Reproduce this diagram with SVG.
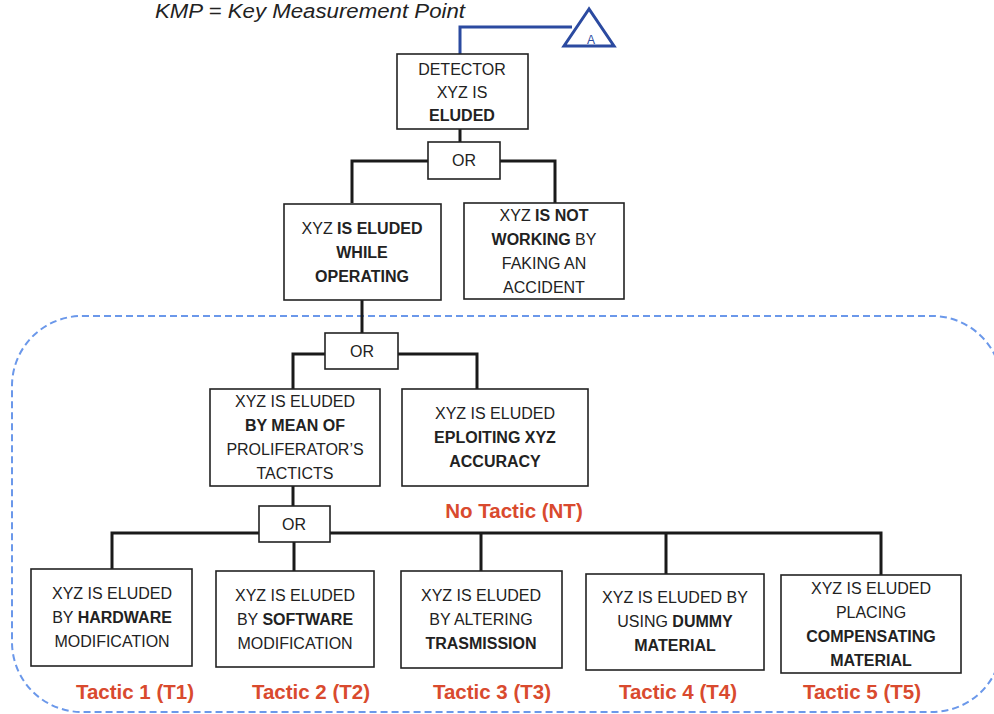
<svg xmlns="http://www.w3.org/2000/svg" width="994" height="714" viewBox="0 0 994 714">
<style>
.bg{fill:#fff}
.box{fill:#fff;stroke:#222;stroke-width:1.6}
.t{font-family:"Liberation Sans",Arial,sans-serif;font-size:16px;fill:#222;text-anchor:middle}
.b{font-weight:bold}
.red{font-family:"Liberation Sans",Arial,sans-serif;font-size:20.5px;font-weight:bold;fill:#d94a2e;text-anchor:middle}
.con{fill:none;stroke:#1a1a1a;stroke-width:3}
.blue{fill:none;stroke:#2b4aa0;stroke-width:3}
.dash{fill:none;stroke:#6b98ea;stroke-width:2;stroke-dasharray:7 4}
</style>
<rect class="bg" x="0" y="0" width="994" height="714"/>
<text x="155" y="18" font-family="'Liberation Sans',Arial,sans-serif" font-size="20" font-style="italic" fill="#222" textLength="310" lengthAdjust="spacingAndGlyphs">KMP = Key Measurement  Point</text>
<rect class="dash" x="12" y="316" width="990" height="396" rx="70" ry="70"/>
<g id="connectors">
<path class="blue" d="M460,54 V27 H572"/>
<path class="con" d="M460,129 V142"/>
<path class="con" d="M428,161 H352 V203 M500,161 H555 V203"/>
<path class="con" d="M362,300 V333"/>
<path class="con" d="M325,354 H293 V389 M398,354 H477 V389"/>
<path class="con" d="M293,486 V506"/>
<path class="con" d="M259,533 H112 V569 M330,533 H881 V575 M294,542 V571 M481,533 V571 M666,533 V574"/>
</g>
<g id="kmpA">
<polygon points="589,9 564,46 614,46" fill="#fff" stroke="#2b4aa0" stroke-width="3" stroke-linejoin="miter"/>
<text x="591" y="44" font-family="'Liberation Sans',Arial,sans-serif" font-size="12" fill="#2b4aa0" text-anchor="middle">A</text>
</g>
<g id="n_detector">
<rect class="box" x="397" y="54" width="131" height="75"/>
<text class="t" x="462" y="75">DETECTOR</text>
<text class="t" x="462" y="98">XYZ IS</text>
<text class="t b" x="462" y="121">ELUDED</text>
</g>
<g id="or1">
<rect class="box" x="428" y="142" width="72" height="37"/>
<text class="t" x="464" y="166">OR</text>
</g>
<g id="n_operating">
<rect class="box" x="284" y="204" width="157" height="96"/>
<text class="t" x="362" y="234">XYZ  <tspan class="b">IS ELUDED</tspan></text>
<text class="t b" x="362" y="258">WHILE</text>
<text class="t b" x="362" y="282">OPERATING</text>
</g>
<g id="n_notworking">
<rect class="box" x="464" y="203" width="160" height="96"/>
<text class="t" x="544" y="221">XYZ  <tspan class="b">IS NOT</tspan></text>
<text class="t" x="544" y="245"><tspan class="b">WORKING</tspan> BY</text>
<text class="t" x="544" y="269">FAKING AN</text>
<text class="t" x="544" y="293">ACCIDENT</text>
</g>
<g id="or2">
<rect class="box" x="325" y="333" width="73" height="36"/>
<text class="t" x="362" y="357">OR</text>
</g>
<g id="n_tactics">
<rect class="box" x="210" y="389" width="170" height="97"/>
<text class="t" x="295" y="407">XYZ IS ELUDED</text>
<text class="t b" x="295" y="431">BY MEAN OF</text>
<text class="t" x="295" y="455">PROLIFERATOR’S</text>
<text class="t" x="295" y="479">TACTICTS</text>
</g>
<g id="n_accuracy">
<rect class="box" x="402" y="389" width="186" height="97"/>
<text class="t" x="495" y="419">XYZ  IS ELUDED</text>
<text class="t b" x="495" y="443">EPLOITING XYZ</text>
<text class="t b" x="495" y="467">ACCURACY</text>
</g>
<text class="red" x="514" y="518">No Tactic (NT)</text>
<g id="or3">
<rect class="box" x="259" y="506" width="71" height="36"/>
<text class="t" x="294" y="530">OR</text>
</g>
<g id="n_t1">
<rect class="box" x="31" y="569" width="161" height="97"/>
<text class="t" x="112" y="599">XYZ IS ELUDED</text>
<text class="t" x="112" y="623">BY <tspan class="b">HARDWARE</tspan></text>
<text class="t" x="112" y="647">MODIFICATION</text>
</g>
<g id="n_t2">
<rect class="box" x="216" y="571" width="158" height="96"/>
<text class="t" x="295" y="601">XYZ IS ELUDED</text>
<text class="t" x="295" y="625">BY <tspan class="b">SOFTWARE</tspan></text>
<text class="t" x="295" y="649">MODIFICATION</text>
</g>
<g id="n_t3">
<rect class="box" x="401" y="571" width="161" height="97"/>
<text class="t" x="481" y="601">XYZ IS ELUDED</text>
<text class="t" x="481" y="625">BY ALTERING</text>
<text class="t b" x="481" y="649">TRASMISSION</text>
</g>
<g id="n_t4">
<rect class="box" x="586" y="574" width="178" height="96"/>
<text class="t" x="675" y="603">XYZ IS ELUDED  BY</text>
<text class="t" x="675" y="627">USING  <tspan class="b">DUMMY</tspan></text>
<text class="t b" x="675" y="651">MATERIAL</text>
</g>
<g id="n_t5">
<rect class="box" x="781" y="575" width="180" height="98"/>
<text class="t" x="871" y="594">XYZ IS ELUDED</text>
<text class="t" x="871" y="618">PLACING</text>
<text class="t b" x="871" y="642">COMPENSATING</text>
<text class="t b" x="871" y="666">MATERIAL</text>
</g>
<text class="red" x="135" y="699">Tactic 1 (T1)</text>
<text class="red" x="311" y="699">Tactic 2  (T2)</text>
<text class="red" x="492" y="699">Tactic 3 (T3)</text>
<text class="red" x="678" y="699">Tactic 4  (T4)</text>
<text class="red" x="862" y="699">Tactic 5  (T5)</text>
</svg>
